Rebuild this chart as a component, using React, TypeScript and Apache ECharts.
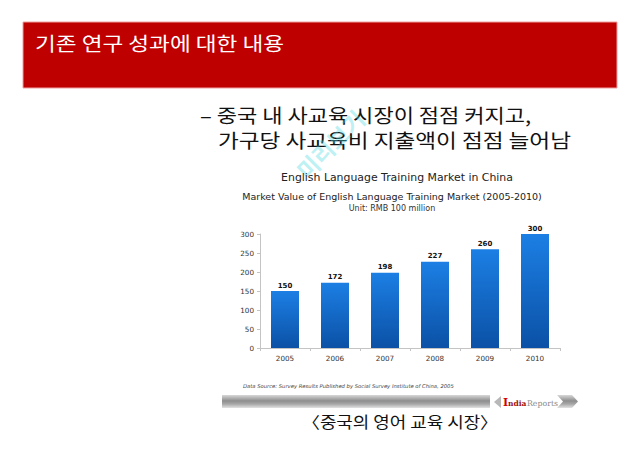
import React, { useEffect, useRef } from "react";
import * as echarts from "echarts";

const categories = ["2005", "2006", "2007", "2008", "2009", "2010"];
const values = [150, 172, 198, 227, 260, 300];
const yMin = 0;
const yMax = 300;
const yInterval = 50;

const headerTitle = "기존 연구 성과에 대한 내용";
const bulletLine1 = "– 중국 내 사교육 시장이 점점 커지고,";
const bulletLine2 = "가구당 사교육비 지출액이 점점 늘어남";
const chartTitle = "English Language Training Market in China";
const chartSubtitle = "Market Value of English Language Training Market (2005-2010)";
const unitText = "Unit: RMB 100 million";
const sourceText = "Data Source: Survey Results Published by Social Survey Institute of China, 2005";
const captionText = "〈중국의 영어 교육 시장〉";
const watermarkText = "미리보기";

const KR = '"Noto Sans CJK KR", sans-serif';
const EN = '"DejaVu Sans", Verdana, sans-serif';

function txt(x: number, y: number, text: string, font: string, fill: string, align = "left", extra: any = {}) {
  return {
    type: "text",
    x,
    y,
    silent: true,
    ...extra,
    style: { text, x: 0, y: 0, font, fill, align, verticalAlign: "middle", textAlign: align, textVerticalAlign: "middle" },
  };
}

export default function App() {
  const ref = useRef<HTMLDivElement>(null);
  useEffect(() => {
    if (!ref.current) return;
    const chart = echarts.init(ref.current, null, { renderer: "svg" });
    const barGrad = new echarts.graphic.LinearGradient(0, 0, 0, 1, [
      { offset: 0, color: "#1c7fe4" },
      { offset: 1, color: "#0b51a6" },
    ]);
    const grayGrad = new echarts.graphic.LinearGradient(0, 0, 0, 1, [
      { offset: 0, color: "#d8d8d8" },
      { offset: 0.45, color: "#8e8e8e" },
      { offset: 0.7, color: "#a8a8a8" },
      { offset: 1, color: "#e2e2e2" },
    ]);
    chart.setOption({
      animation: false,
      backgroundColor: "#ffffff",
      grid: { left: 260, right: 80, top: 234, bottom: 104, containLabel: false },
      xAxis: {
        type: "category",
        data: categories,
        axisLine: { lineStyle: { color: "#c4c4c4", width: 1 } },
        axisTick: { show: true, alignWithLabel: false, length: 3, lineStyle: { color: "#c4c4c4" } },
        axisLabel: { color: "#333", fontFamily: EN, fontSize: 7.2, margin: 7 },
      },
      yAxis: {
        type: "value",
        min: yMin,
        max: yMax,
        interval: yInterval,
        splitLine: { show: false },
        axisLine: { show: true, lineStyle: { color: "#c4c4c4", width: 1 } },
        axisTick: { show: true, length: 3, lineStyle: { color: "#c4c4c4" } },
        axisLabel: { color: "#333", fontFamily: EN, fontSize: 7.2, margin: 6 },
      },
      series: [
        {
          type: "bar",
          data: values,
          barWidth: 28,
          itemStyle: { color: barGrad },
          label: {
            show: true,
            position: "top",
            distance: 2,
            color: "#111",
            fontFamily: EN,
            fontWeight: "bold",
            fontSize: 7,
          },
        },
      ],
      graphic: [
        { type: "rect", shape: { x: 23, y: 22, width: 594, height: 66 }, style: { fill: "#bf0000", stroke: "#f0a0a0", lineWidth: 1 }, silent: true },
        txt(35, 43, headerTitle, `19px ${KR}`, "#ffffff", "left", { scaleX: 1.19 }),
        txt(200, 115, bulletLine1, `19px ${KR}`, "#111111", "left", { scaleX: 1.16 }),
        txt(218, 140, bulletLine2, `19px ${KR}`, "#111111", "left", { scaleX: 1.19 }),
        txt(330, 144, watermarkText, `bold 23px ${KR}`, "rgba(80,218,228,0.38)", "center", { rotation: (45 * Math.PI) / 180 }),
        txt(397, 177, chartTitle, `10.9px ${EN}`, "#222222", "center"),
        txt(392, 196, chartSubtitle, `9.5px ${EN}`, "#222222", "center"),
        txt(392, 208, unitText, `8px ${EN}`, "#333333", "center"),
        txt(243, 386, sourceText, `italic 5.25px ${EN}`, "#444444"),
        { type: "rect", shape: { x: 222, y: 395, width: 268, height: 13 }, style: { fill: grayGrad }, silent: true },
        { type: "polygon", shape: { points: [[501, 396], [494, 402], [501, 408]] }, style: { fill: "#b8b8b8" }, silent: true },
        { type: "polygon", shape: { points: [[557, 395], [572, 395], [578, 401.5], [572, 408], [557, 408], [563, 401.5]] }, style: { fill: grayGrad }, silent: true },
        txt(503, 402, "I", `bold 11px "DejaVu Serif", serif`, "#d40000"),
        txt(508, 403, "ndia", `bold 7.5px "DejaVu Serif", serif`, "#a01010"),
        txt(527, 403, "Reports", `7.8px "DejaVu Serif", serif`, "#888888"),
        txt(400, 421, captionText, `16px ${KR}`, "#111111", "center", { scaleX: 1.12 }),
      ],
    });
    return () => chart.dispose();
  }, []);
  return <div ref={ref} style={{ position: "absolute", left: 0, top: 0, width: 640, height: 452 }} />;
}
